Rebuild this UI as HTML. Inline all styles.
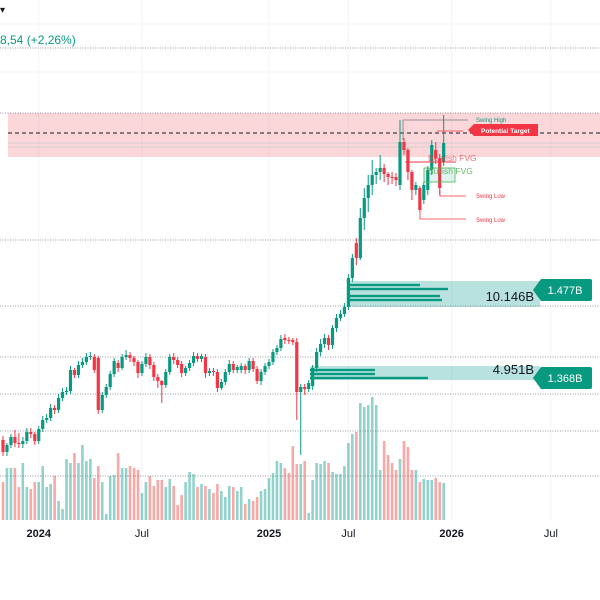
<!DOCTYPE html>
<html><head><meta charset="utf-8"><style>
html,body{margin:0;padding:0;background:#fff;width:600px;height:600px;overflow:hidden}
svg{display:block;font-family:"Liberation Sans",sans-serif}
</style></head><body>
<svg id="chart" width="600" height="600" viewBox="0 0 600 600" xmlns="http://www.w3.org/2000/svg">
<rect x="0" y="0" width="600" height="600" fill="#fff"/>
<g id="vgrid"></g>
<g id="hgrid"></g>
<rect x="8" y="113" width="592" height="44" fill="#f23645" fill-opacity="0.2"/>
<line x1="8" y1="143" x2="600" y2="143" stroke="#c9c9cc" stroke-width="0.8"/>
<line x1="8" y1="147" x2="600" y2="147" stroke="#c9c9cc" stroke-width="0.8"/>
<line x1="8" y1="133" x2="600" y2="133" stroke="#131722" stroke-width="1" stroke-dasharray="4,3"/>
<text x="0" y="13" font-size="10" fill="#131722">▾</text>
<text x="0" y="44" font-size="12" fill="#089981">8,54 (+2,26%)</text>
<g id="vol"></g>
<g id="vp"></g>
<g id="candles"></g>
<g id="annot"></g>
<g id="xaxis"></g>
</svg>
<script>
const NS="http://www.w3.org/2000/svg";
// price in chart units (higher = up)
const opens=[160,148,155,163,157,156,159,168,166,159,171,180,182,192,190,202,208,209,230,225,235,238,243,243,242,190,205,213,226,237,232,243,245,242,238,227,236,243,235,223,219,215,228,243,240,236,227,232,237,244,241,243,227,229,228,212,218,228,236,230,230,234,230,239,231,219,228,234,238,248,252,262,260,260,258,208,213,211,214,232,248,256,262,255,272,282,286,293,322,357,342,382,402,415,425,428,432,426,423,423,415,458,450,428,410,412,400,410,430,450,442,438];
const closes=[148,155,163,157,156,159,168,166,159,171,180,182,192,190,202,208,209,230,225,235,238,243,244,230,190,205,213,226,239,232,243,245,242,238,227,236,243,235,223,219,215,228,243,240,235,227,232,237,244,241,244,227,229,228,212,218,228,236,230,233,234,230,239,231,219,228,234,238,248,252,261,260,259,258,208,213,211,217,232,248,256,262,255,272,282,286,293,322,342,342,382,402,415,425,428,432,426,423,422,420,458,450,428,410,415,390,415,430,455,442,412,457];
const highs=[164,157,166,170,167,163,172,172,168,174,184,186,196,195,206,212,213,234,232,239,242,247,248,246,244,208,216,229,242,240,246,250,248,244,240,239,247,246,238,226,220,231,246,247,243,239,234,240,248,247,246,246,232,232,231,221,231,240,239,235,237,236,242,242,234,231,237,241,251,255,265,266,263,262,262,216,216,220,235,252,261,266,265,275,286,290,297,326,346,362,392,412,425,440,432,445,436,428,428,427,480,462,452,430,418,414,418,434,460,458,446,485];
const lows=[144,144,152,153,152,152,156,162,155,156,168,177,179,186,187,199,205,206,222,222,232,235,240,227,186,187,202,210,223,228,230,240,238,234,222,224,233,231,219,212,197,212,225,236,232,223,224,229,234,238,238,222,224,224,208,210,215,225,227,227,227,226,227,228,216,215,225,231,235,245,249,256,256,255,180,145,205,208,210,228,244,252,250,251,268,279,283,290,318,335,340,370,388,405,416,420,418,415,416,414,410,445,420,400,405,388,396,405,425,436,405,434];
const volumes=[38,52,52,52,33,57,33,31,38,38,54,33,36,44,19,11,61,57,67,57,75,59,61,42,54,38,6,44,45,67,52,52,54,52,50,27,38,44,34,40,40,33,41,34,15,25,38,48,46,33,36,34,31,27,36,29,23,34,33,29,33,16,21,19,23,29,31,42,47,59,57,52,47,74,56,56,59,7,40,57,56,59,57,48,46,46,54,77,86,88,117,113,115,123,115,50,79,65,57,50,61,79,73,50,50,38,41,40,40,42,38,37];
const tickLabels=["2024","Jul","2025","Jul","2026","Jul"];
const tickIndex=[9,35,67,87,113,138];
const tickBold=[true,false,true,false,true,false];
const gridPrices=[552,487,360,294,243,206,169,124];
const vpUpperLevels=[315,311,304,300];
const vpUpperVolumes=[73,101,93,95];
const vpLowerLevels=[230,226,222];
const vpLowerVolumes=[65,65,118];

const X0=3, STEP=3.97;
const xS=i=>X0+i*STEP;
const yS=p=>600-p;
const vBase=520, vS=v=>vBase-v;
const vpS=v=>v;
const GREEN="#089981", RED="#f23645";
function mk(tag,attrs,parent){const e=document.createElementNS(NS,tag);for(const k in attrs)e.setAttribute(k,attrs[k]);parent.appendChild(e);return e;}

const vg=document.getElementById('vgrid');
tickIndex.forEach((ti,k)=>{
  const l=mk('line',{x1:xS(ti),x2:xS(ti),y1:0,y2:520,stroke:'#f0f3fa','stroke-width':1},vg);
  
  
});
const hg=document.getElementById('hgrid');
[24,72].forEach(y=>mk('line',{x1:0,x2:600,y1:y,y2:y,stroke:'#f0f3fa'},hg));
gridPrices.forEach(p=>{
  const l=mk('line',{x1:0,x2:600,y1:yS(p),y2:yS(p),stroke:'#9598a1','stroke-width':1,'stroke-dasharray':'1,1.5'},hg);
  
  
});

const vol=document.getElementById('vol');
volumes.forEach((v,i)=>{
  const up=closes[i]>=opens[i];
  const r=mk('rect',{x:xS(i)-1.3,y:vS(v),width:2.6,height:v,fill:up?'#26a69a':'#ef5350','fill-opacity':0.5},vol);
  
  
});

const cg=document.getElementById('candles');
opens.forEach((o,i)=>{
  const c=closes[i],up=c>=o,col=up?GREEN:RED,x=xS(i);
  const g=mk('g',{},cg);
  
  
  mk('line',{x1:x,x2:x,y1:yS(highs[i]),y2:yS(lows[i]),stroke:col,'stroke-width':1},g);
  const top=yS(Math.max(o,c)),h=Math.max(1,Math.abs(yS(o)-yS(c)));
  mk('rect',{x:x-1.6,y:top,width:3.2,height:h,fill:col},g);
});

const vp=document.getElementById('vp');
function zone(x1,x2,yTop,yBot,levels,vols,label,tag,tagY){
  const g=mk('g',{},vp);
  
  
  mk('rect',{x:x1,y:yTop,width:x2-x1,height:yBot-yTop,fill:'#26a69a','fill-opacity':0.32},g);
  levels.forEach((lv,k)=>{
    const r=mk('rect',{x:x1,y:yS(lv)-1.2,width:vpS(vols[k]),height:2.4,fill:GREEN},g);
    
    
  });
  const t=mk('text',{x:x2-6,y:yBot-6,'font-size':13,fill:'#131722','text-anchor':'end'},g);
  t.textContent=label;
  
  
  const tg=mk('g',{},vp);
  
  
  mk('path',{d:`M533 ${tagY} L541 ${tagY-11} L590 ${tagY-11} Q592 ${tagY-11} 592 ${tagY-9} L592 ${tagY+9} Q592 ${tagY+11} 590 ${tagY+11} L541 ${tagY+11} Z`,fill:GREEN},tg);
  const tt=mk('text',{x:565,y:tagY+4,'font-size':11,fill:'#fff','text-anchor':'middle'},tg);
  tt.textContent=tag;
}
zone(347,540,281,307,vpUpperLevels,vpUpperVolumes,'10.146B','1.477B',290);
zone(310,540,366,380,vpLowerLevels,vpLowerVolumes,'4.951B','1.368B',378);

const an=document.getElementById('annot');
function t(x,y,s,col,fs,name){const e=mk('text',{x:x,y:y,'font-size':fs,fill:col},an);e.textContent=s;return e;}
mk('polyline',{points:'403,140 403,120 468,120',fill:'none',stroke:'#787b86','stroke-width':0.8},an);
t(476,122,'Swing High','#089981',6,'swing-high-label');
mk('line',{x1:437,x2:463,y1:131,y2:131,stroke:RED,'stroke-width':0.8},an);
const pt=mk('g',{},an);


mk('path',{d:'M468 130 L474 124 L538 124 L538 136 L474 136 Z',fill:RED},pt);
const ptt=mk('text',{x:481,y:133,'font-size':6.5,'font-weight':'bold',fill:'#fff'},pt);ptt.textContent='Potential Target';
mk('line',{x1:405,x2:456,y1:162,y2:162,stroke:RED,'stroke-width':1},an);
t(428,161,'Bearish FVG',RED,8.5,'bearish-fvg-label').setAttribute('fill-opacity','0.75');
mk('rect',{x:424,y:168,width:31,height:14,fill:'#089981','fill-opacity':0.12,stroke:'#4caf50','stroke-width':0.8},an);
t(428,174,'Bullish FVG','#4caf50',8.5,'bullish-fvg-label').setAttribute('fill-opacity','0.85');
mk('polyline',{points:'440,190 440,196 466,196',fill:'none',stroke:RED,'stroke-width':0.8},an);
t(476,198,'Swing Low',RED,6,'swing-low-label');
mk('polyline',{points:'420,212 420,219 466,219',fill:'none',stroke:RED,'stroke-width':0.8},an);
t(476,222,'Swing Low',RED,6,'swing-low-label-2');

const xa=document.getElementById('xaxis');
tickLabels.forEach((s,k)=>{
  const e=mk('text',{x:xS(tickIndex[k]),y:537,'font-size':11,'font-weight':tickBold[k]?'bold':'normal',fill:'#131722','text-anchor':'middle'},xa);
  e.textContent=s;
  
  
});
</script>
</body></html>
